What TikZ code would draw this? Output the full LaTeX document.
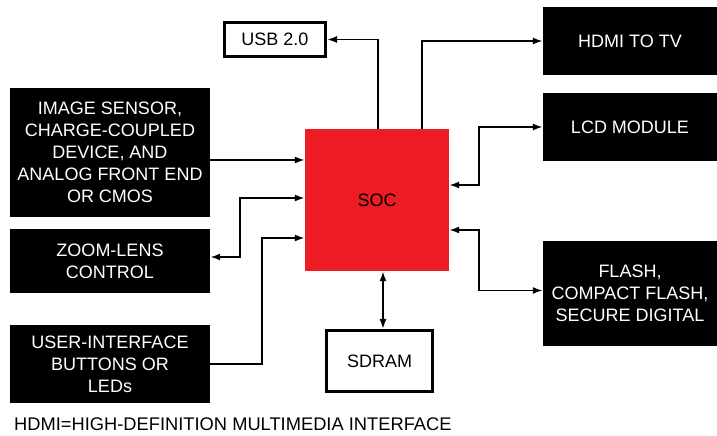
\documentclass[tikz,border=0pt]{standalone}
\usepackage{fontspec}
\setmainfont{Liberation Sans}
\usepackage{tikz}
\usetikzlibrary{arrows.meta, positioning}

\definecolor{socred}{RGB}{237,28,36}

\tikzset{
    darkbox/.style={fill=black, text=white, align=center, inner sep=0pt},
    whitebox/.style={draw=black, line width=3pt, fill=white, align=center, inner sep=0pt},
    link/.style={line width=1.8pt}
}

\begin{document}
\begin{tikzpicture}[x=1pt, y=1pt, >={Latex[length=10pt, width=7pt]}, font=\fontsize{18}{22}\selectfont]

% --- Frame ---
\useasboundingbox (0,0) rectangle (717,436);

% --- Central chip ---
\node[fill=socred, minimum width=144, minimum height=142, inner sep=0pt] (soc) at (377, 236) {SOC};

% --- Left blocks ---
\node[darkbox, minimum width=200, minimum height=129] (sensor) at (110, 283.5)
    {IMAGE SENSOR,\\CHARGE-COUPLED\\DEVICE, AND\\ANALOG FRONT END\\OR CMOS};
\node[darkbox, minimum width=200, minimum height=64] (zoomlens) at (110, 175)
    {ZOOM-LENS\\CONTROL};
\node[darkbox, minimum width=200, minimum height=78] (buttons) at (110, 72)
    {USER-INTERFACE\\BUTTONS OR\\LEDs};

% --- Top and bottom blocks ---
\node[whitebox, minimum width=101, minimum height=34] (usb) at (275, 396.5) {USB 2.0};
\node[whitebox, minimum width=106, minimum height=61] (sdram) at (379.5, 75) {SDRAM};

% --- Right blocks ---
\node[darkbox, minimum width=174, minimum height=68] (hdmi) at (630, 395) {HDMI TO TV};
\node[darkbox, minimum width=174, minimum height=68] (lcd) at (630, 309) {LCD MODULE};
\node[darkbox, minimum width=174, minimum height=105] (flash) at (630, 142.5)
    {FLASH,\\COMPACT FLASH,\\SECURE DIGITAL};

% --- Footnote ---
\node[anchor=base west, inner sep=0pt, font=\fontsize{18.3}{22}\selectfont] (note) at (14, 5)
    {HDMI=HIGH-DEFINITION MULTIMEDIA INTERFACE};

% --- Connectors ---
\coordinate (socin1) at ([yshift=40pt]soc.west);
\coordinate (socin3) at ([yshift=-38pt]soc.west);

\draw[link, ->] (socin1 -| sensor.east) -- (socin1);
\draw[link, <->] ([yshift=2pt]soc.west) -- ++(-65,0) |- ([yshift=4pt]zoomlens.east);
\draw[link, ->] (buttons.east) -- ++(52,0) |- (socin3);

\draw[link, ->] ([xshift=1pt]soc.north) |- (usb.east);
\draw[link, ->] ([xshift=45pt]soc.north) |- (hdmi.west);

\draw[link, <->] ([yshift=15pt]soc.east) -- ++(30,0) |- (lcd.west);
\draw[link, <->] ([yshift=-30pt]soc.east) -- ++(30,0) |- ([yshift=3pt]flash.west);

\draw[link, <->] ([xshift=6pt]soc.south) -- ([xshift=3.5pt]sdram.north);

\end{tikzpicture}
\end{document}
